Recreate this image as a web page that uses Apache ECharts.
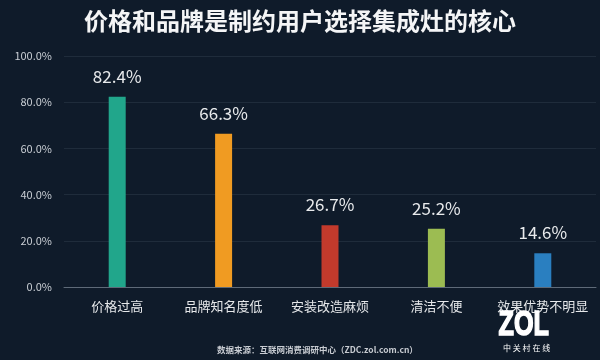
<!DOCTYPE html>
<html><head><meta charset="utf-8">
<script src="https://cdn.jsdelivr.net/npm/echarts@6/dist/echarts.min.js"></script>
<style>html,body{margin:0;padding:0;background:#0f1b2a;}#c{width:600px;height:360px;}</style>
</head><body><div id="c"></div>
<script>
const categories = ['价格过高','品牌知名度低','安装改造麻烦','清洁不便','效果优势不明显'];
const values = [82.4, 66.3, 26.7, 25.2, 14.6];
const barColors = ['#21a68b','#f09b22','#c23a2c','#9cbc52','#2a7fc0'];
const yTicks = [0,20,40,60,80,100];

const chart = echarts.init(document.getElementById('c'));
const font = '"Noto Sans CJK SC", "Noto Sans", sans-serif';
chart.setOption({
  backgroundColor: '#0f1b2a',
  animation: false,
  title: [{
    text: '价格和品牌是制约用户选择集成灶的核心',
    left: 'center', top: 4,
    textStyle: {color: '#f4f5f6', fontSize: 24, fontWeight: 'bold', fontFamily: font}
  },{
    text: '数据来源：互联网消费调研中心（ZDC.zol.com.cn）',
    left: 212, top: 341,
    textStyle: {color: '#c8ccd2', fontSize: 8.5, fontWeight: 'bold', fontFamily: font}
  },{
    text: '中 关 村 在 线',
    left: 498, top: 339,
    textStyle: {color: '#ffffff', fontSize: 8, fontWeight: 'normal', fontFamily: font}
  }],
  graphic: [{
    type: 'text', left: 498, top: 307, scaleX: 0.72, z: 100,
    style: {text: 'ZOL', fill: '#ffffff', stroke: '#ffffff', lineWidth: 1.6,
      font: 'bold 35px "Liberation Sans", Arial, sans-serif'}
  }],
  grid: {left: 64, right: 4, top: 56, bottom: 73, containLabel: false},
  xAxis: {
    type: 'category', data: categories,
    axisLine: {lineStyle: {color: '#5e6a78', width: 1}},
    axisTick: {show: false},
    axisLabel: {color: '#e6e8ea', fontSize: 13, margin: 13, interval: 0, fontFamily: font}
  },
  yAxis: {
    type: 'value', min: 0, max: 100, interval: 20,
    axisLine: {show: false}, axisTick: {show: false},
    splitLine: {lineStyle: {color: '#1f2c3b', width: 1}},
    axisLabel: {color: '#c9ced4', fontSize: 11, margin: 12, fontFamily: font,
      formatter: v => v.toFixed(1) + '%'}
  },
  series: [{
    type: 'bar', barWidth: 17,
    data: values.map((v,i) => ({value: v, itemStyle: {color: barColors[i]}})),
    label: {show: true, position: 'top', distance: 12, color: '#e8eaec', fontSize: 17,
      fontFamily: font, formatter: p => p.value.toFixed(1) + '%'}
  }]
});
</script></body></html>
